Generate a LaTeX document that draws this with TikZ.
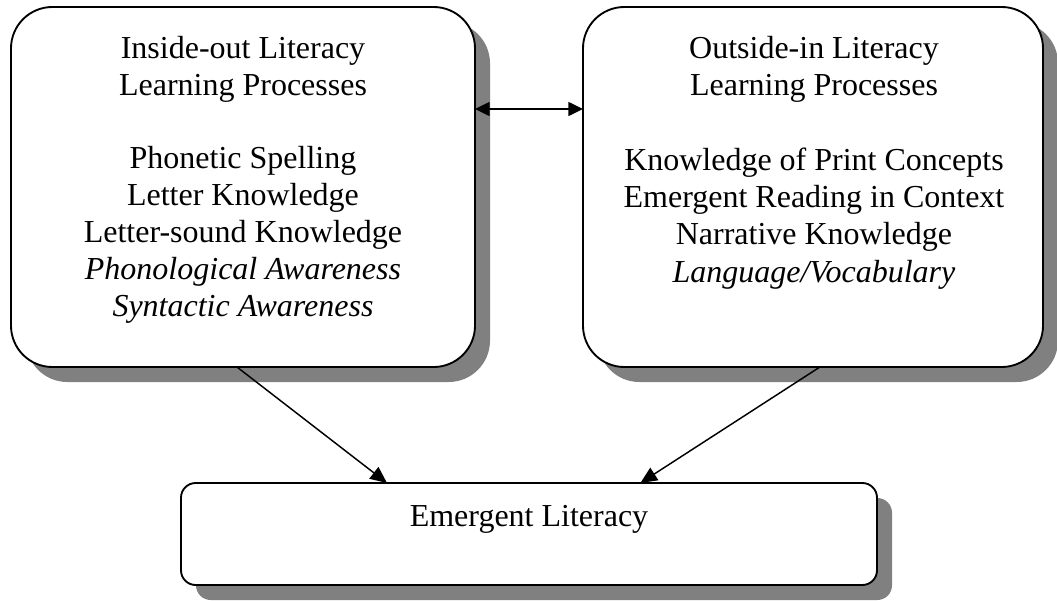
\documentclass[tikz,border=0pt]{standalone}
\usepackage{fontspec}
\setmainfont{Liberation Serif}
\usetikzlibrary{shadows,arrows.meta,calc}
\begin{document}
\begin{tikzpicture}[x=0.75pt,y=-0.75pt,
  box/.style={draw=black, line width=1.4pt, fill=white, inner sep=0pt, outer sep=0pt,
    drop shadow={shadow xshift=11.25pt, shadow yshift=-11.25pt, fill=gray, opacity=1}},
  bigbox/.style={box, rounded corners=31pt, minimum height=270pt},
  txt/.style={font=\fontsize{24}{27.6}\selectfont, align=center, anchor=base, inner sep=0pt},
  arr/.style={line width=1.1pt, -{Triangle[length=12.5pt,width=11pt]}},
  darr/.style={line width=1.1pt, {Triangle[length=11pt,width=10.5pt]}-{Triangle[length=11pt,width=10.5pt]}}]
\useasboundingbox (0,0) rectangle (1057,600);
\node[bigbox, minimum width=348pt] (L) at (243,187) {};
\node[bigbox, minimum width=345pt] (R) at (813,187) {};
\node[box, rounded corners=11pt, minimum width=522pt, minimum height=76.5pt] (B) at (529,534) {};
\node[txt] (lt) at (243,316) {Inside-out Literacy\\Learning Processes\\[27.6pt]Phonetic Spelling\\Letter Knowledge\\Letter-sound Knowledge\\\textit{Phonological Awareness}\\\textit{Syntactic Awareness}};
\node[txt, font=\fontsize{24}{28}\selectfont] (rt) at (814,282) {Outside-in Literacy\\Learning Processes\\[28pt]Knowledge of Print Concepts\\Emergent Reading in Context\\Narrative Knowledge\\\textit{Language/Vocabulary}};
\node[txt] (bt) at (529,526) {Emergent Literacy};
\coordinate (m) at (0,109);
\draw[darr] (L.east |- m) -- (R.west |- m);
\draw[arr] ($(L.south west)!0.487!(L.south east)$) -- ($(B.north west)!0.296!(B.north east)$);
\draw[arr] ($(R.south west)!0.515!(R.south east)$) -- ($(B.north west)!0.66!(B.north east)$);
\end{tikzpicture}
\end{document}
